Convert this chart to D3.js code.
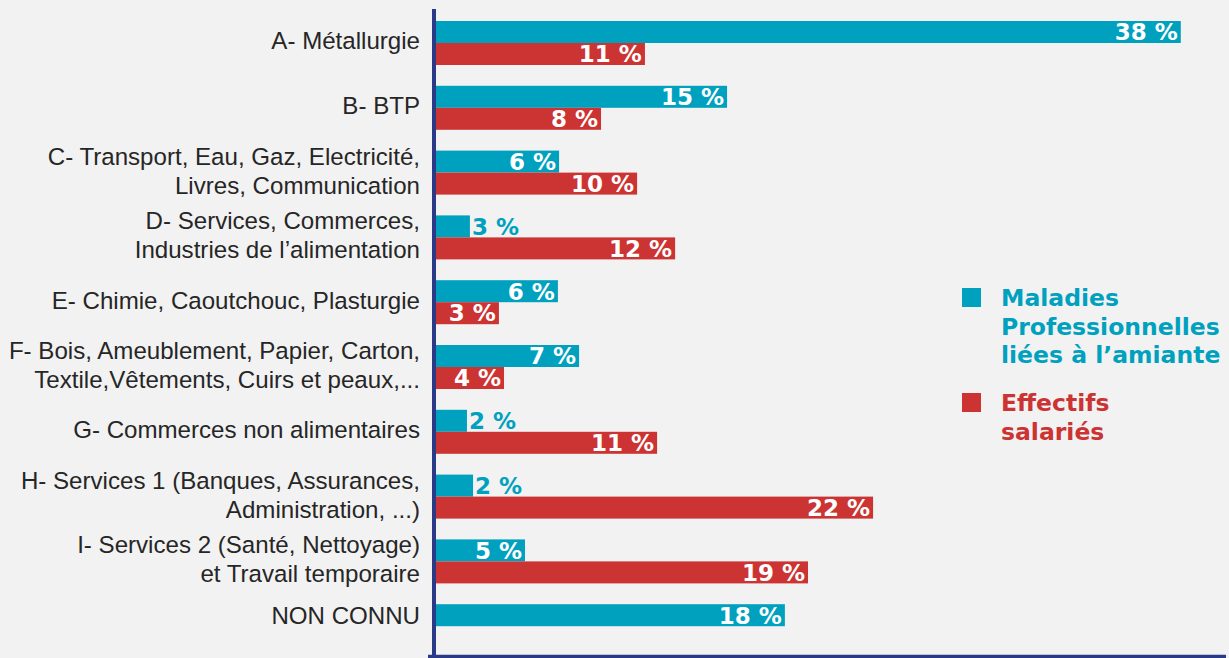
<!DOCTYPE html>
<html>
<head>
<meta charset="utf-8">
<script src="https://cdn.jsdelivr.net/npm/d3@7"></script>
<style>
  html, body { margin: 0; padding: 0; background: #f2f2f2; }
  svg { display: block; }
</style>
</head>
<body>
<svg id="chart" width="1229" height="658"></svg>
<script>
// ---- data ----
const categories = ["A","B","C","D","E","F","G","H","I","NC"];
const categoryLabels = [
  ["A- Métallurgie"],
  ["B- BTP"],
  ["C- Transport, Eau, Gaz, Electricité,", "Livres, Communication"],
  ["D- Services, Commerces,", "Industries de l’alimentation"],
  ["E- Chimie, Caoutchouc, Plasturgie"],
  ["F- Bois, Ameublement, Papier, Carton,", "Textile,Vêtements, Cuirs et peaux,..."],
  ["G- Commerces non alimentaires"],
  ["H- Services 1 (Banques, Assurances,", "Administration, ...)"],
  ["I- Services 2 (Santé, Nettoyage)", "et Travail temporaire"],
  ["NON CONNU"]
];
const seriesNames = ["Maladies Professionnelles liées à l’amiante", "Effectifs salariés"];
const legendLines = [["Maladies", "Professionnelles", "liées à l’amiante"], ["Effectifs", "salariés"]];
const maladiesValues = [38.0, 14.85, 6.28, 1.73, 6.22, 7.30, 1.58, 1.89, 4.54, 17.8];
const maladiesLabels = ["38 %","15 %","6 %","3 %","6 %","7 %","2 %","2 %","5 %","18 %"];
const effectifsValues = [10.66, 8.42, 10.26, 12.2, 3.21, 3.47, 11.28, 22.3, 18.98, null];
const effectifsLabels = ["11 %","8 %","10 %","12 %","3 %","4 %","11 %","22 %","19 %", null];

// ---- setup ----
const colors = ["#00a1be", "#cc3333"];
const svg = d3.select("#chart");
const x0 = 436;
const x = d3.scaleLinear().domain([0, 40]).range([x0, x0 + 40 * 19.6]);
const y = d3.scaleBand().domain(categories).range([21, 648.2]).paddingInner(0.321).paddingOuter(0);
const ySub = d3.scaleBand().domain([0, 1]).range([0, y.bandwidth()]);

const series = [
  {values: maladiesValues, labels: maladiesLabels},
  {values: effectifsValues, labels: effectifsLabels}
];

const valueFont = "bold 23px 'DejaVu Sans'";
const ctx = document.createElement("canvas").getContext("2d");
function textW(t, f) { ctx.font = f; return ctx.measureText(t).width; }

// ---- bars ----
series.forEach((s, si) => {
  const g = svg.append("g");
  const data = categories.map((c, i) => ({c, v: s.values[i], label: s.labels[i]})).filter(d => d.v != null);
  g.selectAll("rect").data(data).join("rect")
    .attr("x", x(0))
    .attr("y", d => y(d.c) + ySub(si))
    .attr("width", d => x(d.v) - x(0))
    .attr("height", ySub.bandwidth())
    .attr("fill", colors[si]);
  g.selectAll("text").data(data).join("text")
    .each(function(d) {
      const w = x(d.v) - x(0);
      const tw = textW(d.label, valueFont);
      const inside = tw + 6 <= w;
      d3.select(this)
        .attr("x", inside ? x(d.v) - 3 : x(d.v) + 2)
        .attr("text-anchor", inside ? "end" : "start")
        .attr("fill", inside ? "#ffffff" : colors[si]);
    })
    .attr("y", d => y(d.c) + ySub(si) + ySub.bandwidth() / 2 + 8.3)
    .style("font", valueFont)
    .text(d => d.label);
});

// ---- category labels ----
const labelFont = "24.1px 'Liberation Sans', Arial, sans-serif";
const lg = svg.append("g");
categories.forEach((c, i) => {
  const single = effectifsValues[i] == null;
  const cy = single ? y(c) + ySub(0) + ySub.bandwidth() / 2 : y(c) + y.bandwidth() / 2 - 2;
  const lines = categoryLabels[i];
  const lh = 29;
  const t = lg.append("text")
    .attr("text-anchor", "end")
    .attr("fill", "#262626")
    .style("font", labelFont);
  lines.forEach((ln, k) => {
    const lyc = cy + (k - (lines.length - 1) / 2) * lh;
    t.append("tspan").attr("x", 420).attr("y", lyc + 8.5).text(ln);
  });
});

// ---- axes ----
svg.append("line")
  .attr("x1", 428).attr("x2", 1226)
  .attr("y1", 656.5).attr("y2", 656.5)
  .attr("stroke", "#2b3a87").attr("stroke-width", 3.5);
svg.append("line")
  .attr("x1", 434).attr("x2", 434)
  .attr("y1", 9).attr("y2", 658)
  .attr("stroke", "#2b3a87").attr("stroke-width", 4);

// ---- legend ----
const legendFont = "bold 23.5px 'DejaVu Sans'";
const legTop = [288, 393];
legendLines.forEach((lines, si) => {
  svg.append("rect")
    .attr("x", 962).attr("y", legTop[si])
    .attr("width", 19).attr("height", 19)
    .attr("fill", colors[si]);
  const t = svg.append("text")
    .attr("fill", colors[si])
    .style("font", legendFont);
  lines.forEach((ln, k) => {
    t.append("tspan").attr("x", 1001).attr("y", legTop[si] + 18 + k * 28.7).text(ln);
  });
});
</script>
</body>
</html>
